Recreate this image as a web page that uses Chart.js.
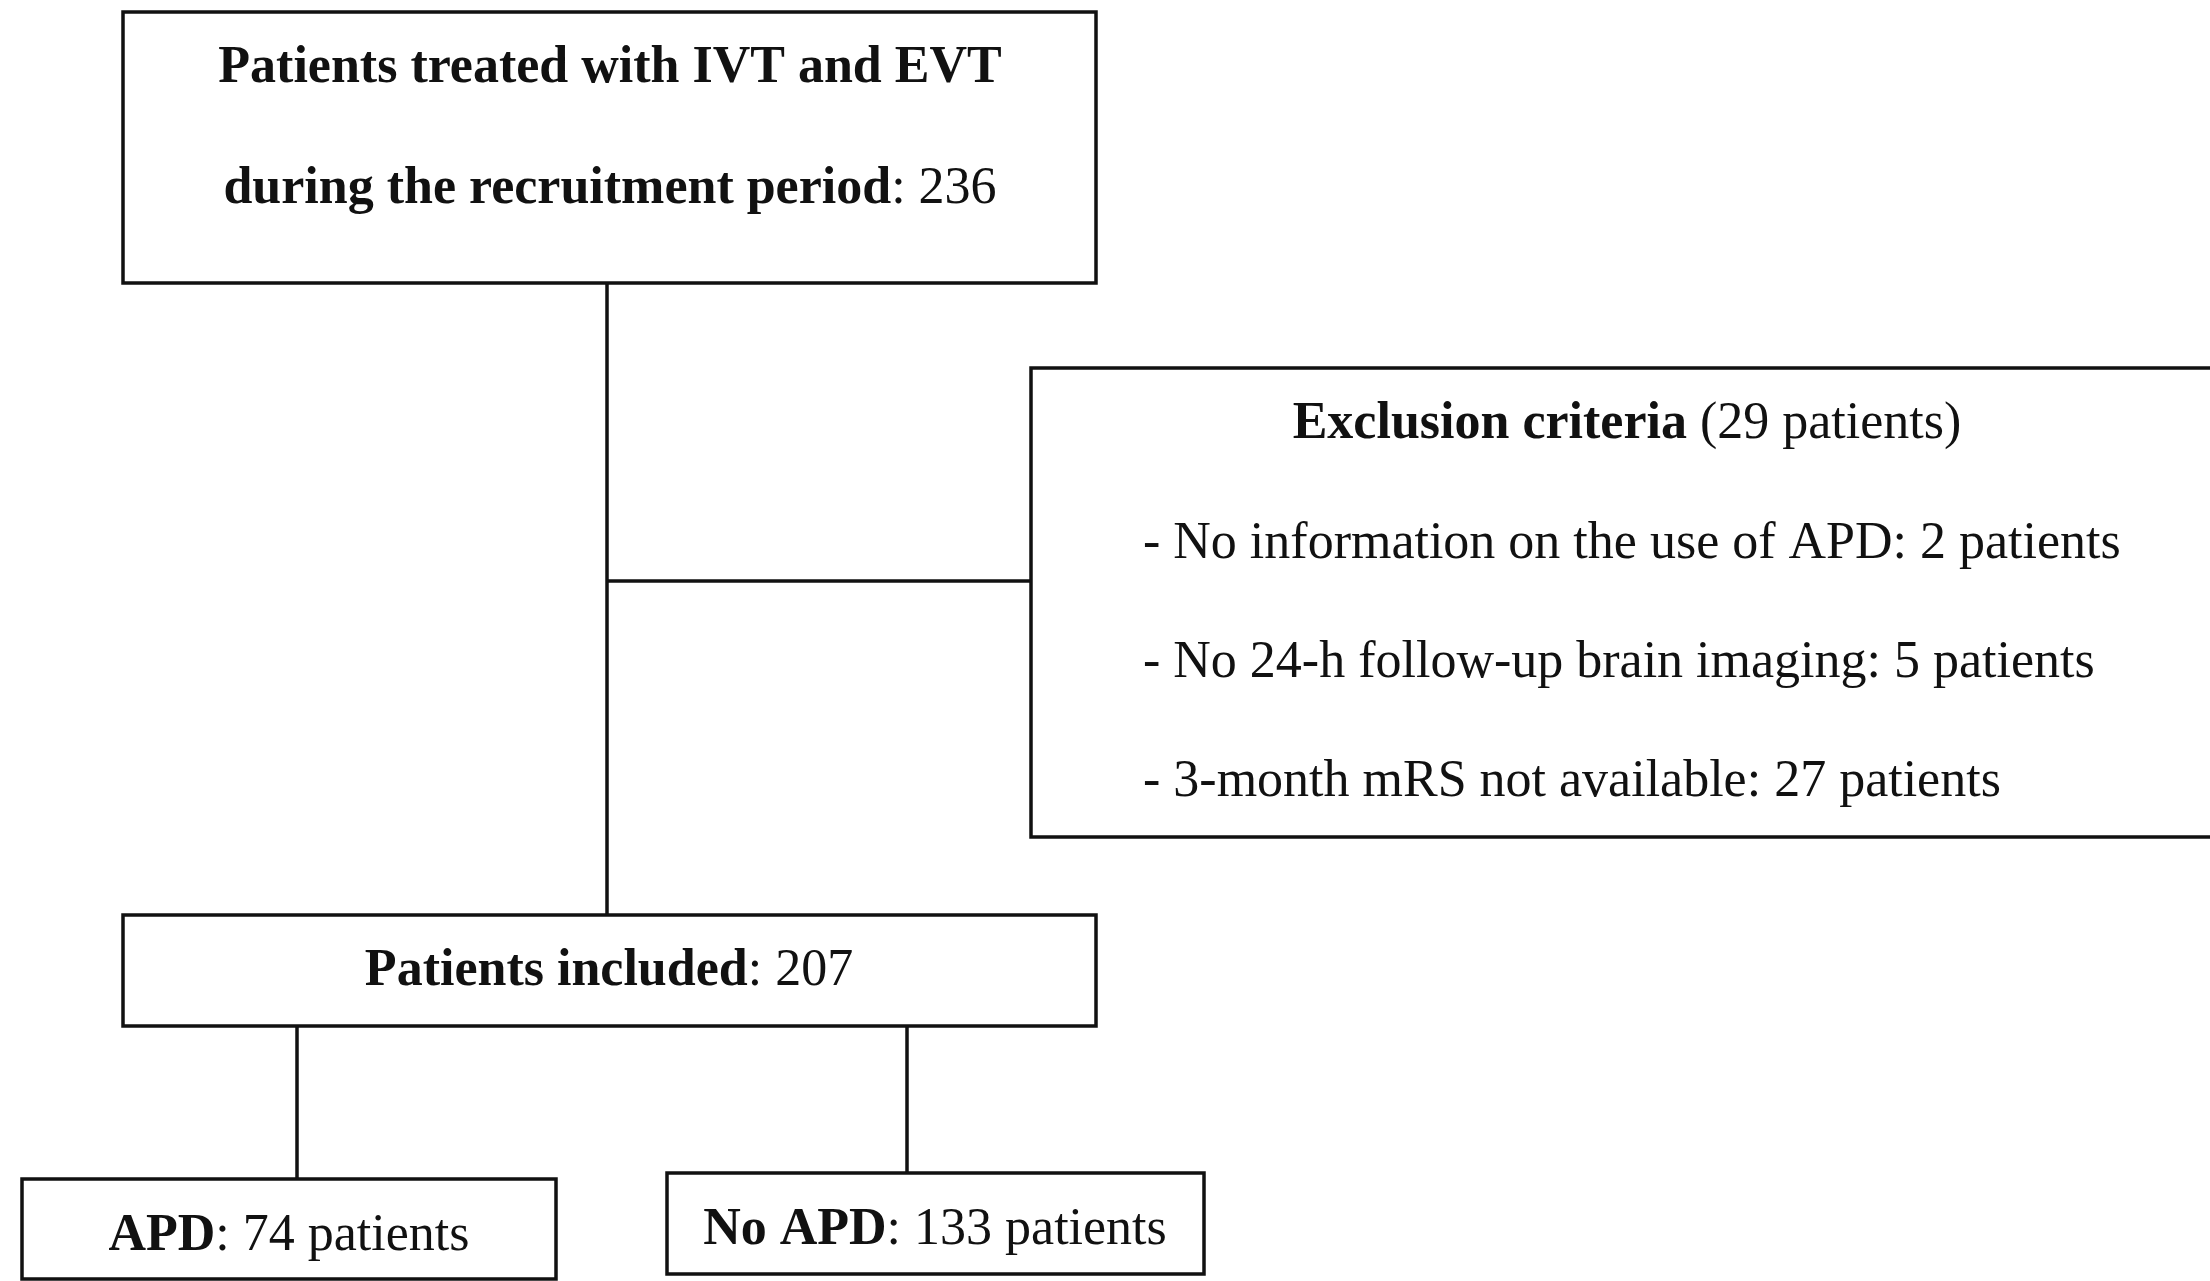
<!DOCTYPE html>
<html><head><meta charset="utf-8">
<script src="https://cdn.jsdelivr.net/npm/chart.js@4.4.0/dist/chart.umd.min.js"></script>
<style>html,body{margin:0;padding:0;background:#fff;overflow:hidden}canvas{display:block}
.pre{font-family:"Liberation Serif";position:absolute;left:-9999px}</style>
</head><body><span class="pre">a</span><span class="pre" style="font-weight:bold">a</span><canvas id="c" width="2210" height="1281"></canvas>
<script>
// ---- data ----
const totalTreated = 236;
const excludedTotal = 29;
const exclusionReasons = ["No information on the use of APD", "No 24-h follow-up brain imaging", "3-month mRS not available"];
const exclusionCounts = [2, 5, 27];
const includedTotal = 207;
const groupLabels = ["APD", "No APD"];
const groupCounts = [74, 133];

// ---- layout (in canvas-sized data units) ----
const W = 2210, H = 1281;
const boxes = [
  [123, 12, 1096, 283],     // treated
  [1031, 368, 2230, 837],   // exclusion
  [123, 915, 1096, 1026],   // included
  [22, 1179, 556, 1279],    // APD
  [667, 1173, 1204, 1274]   // No APD
];
const connectors = [
  [[607, 283], [607, 915]],
  [[607, 581], [1031, 581]],
  [[297, 1026], [297, 1179]],
  [[907, 1026], [907, 1173]]
];
const textRows = [
  {x: 610, y: 82, align: 'center', runs: [["Patients treated with IVT and EVT", true]]},
  {x: 610, y: 203, align: 'center', runs: [["during the recruitment period", true], [": " + totalTreated, false]]},
  {x: 1627, y: 438, align: 'center', runs: [["Exclusion criteria", true], [" (" + excludedTotal + " patients)", false]]},
  ...exclusionReasons.map((r, i) => ({x: 1143, y: [558, 677, 796][i], align: 'left', runs: [["- " + r + ": " + exclusionCounts[i] + " patients", false]]})),
  {x: 609, y: 985, align: 'center', runs: [["Patients included", true], [": " + includedTotal, false]]},
  {x: 289, y: 1250, align: 'center', runs: [[groupLabels[0], true], [": " + groupCounts[0] + " patients", false]]},
  {x: 935, y: 1244, align: 'center', runs: [[groupLabels[1], true], [": " + groupCounts[1] + " patients", false]]}
];

const INK = '#111';
const FONT = '"Liberation Serif", "Times New Roman", serif';
const FS = 52;

const datasets = [];
boxes.forEach(([x1, y1, x2, y2]) => {
  datasets.push({
    data: [{x: x1, y: y1}, {x: x2, y: y1}, {x: x2, y: y2}, {x: x1, y: y2}, {x: x1, y: y1}],
    showLine: true, borderColor: INK, borderWidth: 3.5, pointRadius: 0,
    borderJoinStyle: 'miter', borderCapStyle: 'square', tension: 0, fill: false
  });
});
connectors.forEach(seg => {
  datasets.push({
    data: seg.map(p => ({x: p[0], y: p[1]})),
    showLine: true, borderColor: INK, borderWidth: 3.5, pointRadius: 0,
    borderCapStyle: 'butt', tension: 0, fill: false
  });
});

const textPlugin = {
  id: 'flowText',
  afterDatasetsDraw(chart) {
    const ctx = chart.ctx, xs = chart.scales.x, ys = chart.scales.y;
    ctx.save();
    ctx.fillStyle = INK;
    ctx.textBaseline = 'alphabetic';
    ctx.textAlign = 'left';
    textRows.forEach(row => {
      let total = 0;
      const widths = row.runs.map(([t, b]) => {
        ctx.font = (b ? 'bold ' : '') + FS + 'px ' + FONT;
        const w = ctx.measureText(t).width; total += w; return w;
      });
      let px = xs.getPixelForValue(row.x);
      if (row.align === 'center') px -= total / 2;
      const py = ys.getPixelForValue(row.y);
      row.runs.forEach(([t, b], i) => {
        ctx.font = (b ? 'bold ' : '') + FS + 'px ' + FONT;
        ctx.fillText(t, px, py);
        px += widths[i];
      });
    });
    ctx.restore();
  }
};

function build() {
  new Chart(document.getElementById('c'), {
    type: 'scatter',
    data: {datasets},
    options: {
      responsive: false, animation: false, devicePixelRatio: 1,
      layout: {padding: 0},
      plugins: {legend: {display: false}, tooltip: {enabled: false}},
      scales: {
        x: {type: 'linear', min: 0, max: W, display: false},
        y: {type: 'linear', min: 0, max: H, reverse: true, display: false}
      },
      elements: {line: {clip: false}}
    },
    plugins: [textPlugin]
  });
}
Promise.all([
  document.fonts.load(FS + 'px "Liberation Serif"'),
  document.fonts.load('bold ' + FS + 'px "Liberation Serif"')
]).then(build, build);
</script></body></html>
